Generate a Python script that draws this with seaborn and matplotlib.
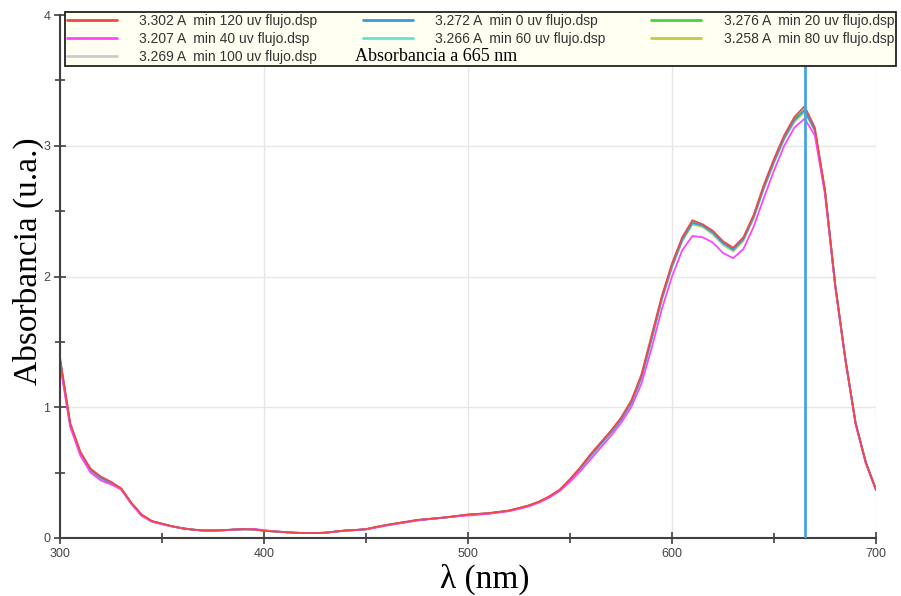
import matplotlib
matplotlib.use("Agg")
import matplotlib.pyplot as plt
import numpy as np
import pandas as pd
import seaborn as sns
from matplotlib.ticker import MultipleLocator

# ---------------- data ----------------
wavelength = list(range(300, 705, 5))

s_min120 = [1.38, 0.88, 0.66, 0.53, 0.47, 0.43, 0.38, 0.27, 0.18, 0.13,
            0.11, 0.09, 0.075, 0.065, 0.058, 0.058, 0.060, 0.065, 0.068, 0.065,
            0.055, 0.050, 0.045, 0.040, 0.038, 0.038, 0.040, 0.050, 0.058, 0.062,
            0.068, 0.085, 0.100, 0.113, 0.125, 0.138, 0.145, 0.152, 0.160, 0.170,
            0.180, 0.185, 0.190, 0.200, 0.210, 0.230, 0.250, 0.280, 0.320, 0.370,
            0.450, 0.540, 0.640, 0.730, 0.820, 0.920, 1.050, 1.250, 1.550, 1.850,
            2.100, 2.300, 2.430, 2.400, 2.350, 2.270, 2.220, 2.300, 2.470, 2.700,
            2.900, 3.080, 3.220, 3.302, 3.140, 2.660, 1.940, 1.370, 0.880, 0.580,
            0.370]
s_min40 = [1.33, 0.85, 0.63, 0.50, 0.44, 0.41, 0.37, 0.26, 0.17, 0.125,
           0.105, 0.088, 0.073, 0.064, 0.057, 0.057, 0.059, 0.063, 0.066, 0.070,
           0.060, 0.052, 0.046, 0.041, 0.039, 0.038, 0.041, 0.048, 0.055, 0.060,
           0.066, 0.080, 0.095, 0.108, 0.120, 0.133, 0.142, 0.150, 0.158, 0.166,
           0.172, 0.178, 0.185, 0.195, 0.205, 0.222, 0.243, 0.272, 0.310, 0.360,
           0.430, 0.510, 0.600, 0.690, 0.780, 0.880, 1.000, 1.180, 1.450, 1.750,
           2.000, 2.200, 2.310, 2.300, 2.260, 2.180, 2.140, 2.210, 2.380, 2.600,
           2.810, 3.000, 3.140, 3.207, 3.080, 2.630, 1.920, 1.360, 0.870, 0.570,
           0.365]
s_min0 = [1.36, 0.87, 0.65, 0.52, 0.46, 0.42, 0.375, 0.265, 0.175, 0.128,
          0.108, 0.089, 0.074, 0.064, 0.057, 0.057, 0.059, 0.064, 0.067, 0.066,
          0.056, 0.050, 0.045, 0.040, 0.038, 0.038, 0.040, 0.049, 0.057, 0.061,
          0.067, 0.083, 0.098, 0.111, 0.123, 0.136, 0.144, 0.151, 0.159, 0.168,
          0.177, 0.183, 0.188, 0.198, 0.208, 0.227, 0.248, 0.277, 0.316, 0.366,
          0.445, 0.532, 0.628, 0.718, 0.808, 0.905, 1.035, 1.230, 1.525, 1.830,
          2.080, 2.280, 2.410, 2.390, 2.335, 2.255, 2.205, 2.285, 2.455, 2.680,
          2.880, 3.060, 3.195, 3.272, 3.120, 2.650, 1.935, 1.365, 0.878, 0.578,
          0.369]
s_min20 = [1.37, 0.87, 0.65, 0.52, 0.46, 0.42, 0.377, 0.266, 0.176, 0.129,
           0.109, 0.089, 0.074, 0.064, 0.057, 0.057, 0.059, 0.064, 0.067, 0.066,
           0.056, 0.050, 0.045, 0.040, 0.038, 0.038, 0.040, 0.049, 0.057, 0.061,
           0.067, 0.084, 0.099, 0.112, 0.124, 0.137, 0.144, 0.151, 0.159, 0.169,
           0.178, 0.184, 0.189, 0.199, 0.209, 0.228, 0.249, 0.278, 0.318, 0.368,
           0.447, 0.535, 0.632, 0.722, 0.812, 0.910, 1.040, 1.238, 1.535, 1.838,
           2.088, 2.288, 2.415, 2.392, 2.340, 2.262, 2.212, 2.292, 2.462, 2.690,
           2.888, 3.068, 3.205, 3.276, 3.125, 2.652, 1.937, 1.366, 0.879, 0.579,
           0.369]
s_min60 = [1.36, 0.86, 0.64, 0.52, 0.46, 0.42, 0.374, 0.264, 0.174, 0.127,
           0.107, 0.088, 0.073, 0.064, 0.057, 0.057, 0.059, 0.064, 0.067, 0.066,
           0.056, 0.050, 0.045, 0.040, 0.038, 0.038, 0.040, 0.049, 0.057, 0.061,
           0.067, 0.083, 0.098, 0.111, 0.123, 0.136, 0.144, 0.151, 0.159, 0.168,
           0.176, 0.182, 0.188, 0.198, 0.208, 0.226, 0.247, 0.276, 0.315, 0.365,
           0.443, 0.530, 0.625, 0.715, 0.805, 0.902, 1.030, 1.225, 1.520, 1.825,
           2.075, 2.275, 2.405, 2.385, 2.330, 2.250, 2.200, 2.280, 2.450, 2.675,
           2.875, 3.055, 3.190, 3.266, 3.118, 2.648, 1.934, 1.364, 0.877, 0.577,
           0.368]
s_min80 = [1.35, 0.86, 0.64, 0.51, 0.45, 0.42, 0.373, 0.263, 0.173, 0.127,
           0.107, 0.088, 0.073, 0.064, 0.057, 0.057, 0.059, 0.064, 0.067, 0.066,
           0.056, 0.050, 0.045, 0.040, 0.038, 0.038, 0.040, 0.049, 0.057, 0.061,
           0.067, 0.083, 0.098, 0.111, 0.123, 0.136, 0.144, 0.151, 0.159, 0.168,
           0.176, 0.182, 0.188, 0.198, 0.208, 0.226, 0.247, 0.276, 0.315, 0.365,
           0.442, 0.528, 0.622, 0.712, 0.802, 0.898, 1.025, 1.220, 1.512, 1.818,
           2.068, 2.268, 2.398, 2.378, 2.322, 2.242, 2.192, 2.272, 2.442, 2.668,
           2.868, 3.048, 3.182, 3.258, 3.115, 2.646, 1.933, 1.363, 0.876, 0.576,
           0.368]
s_min100 = [1.36, 0.87, 0.65, 0.52, 0.46, 0.42, 0.375, 0.265, 0.175, 0.128,
            0.108, 0.089, 0.074, 0.064, 0.057, 0.057, 0.059, 0.064, 0.067, 0.066,
            0.056, 0.050, 0.045, 0.040, 0.038, 0.038, 0.040, 0.049, 0.057, 0.061,
            0.067, 0.083, 0.098, 0.111, 0.123, 0.136, 0.144, 0.151, 0.159, 0.168,
            0.177, 0.183, 0.188, 0.198, 0.208, 0.227, 0.248, 0.277, 0.316, 0.366,
            0.444, 0.531, 0.627, 0.717, 0.807, 0.904, 1.033, 1.228, 1.522, 1.828,
            2.078, 2.278, 2.408, 2.388, 2.333, 2.253, 2.203, 2.283, 2.453, 2.678,
            2.878, 3.058, 3.193, 3.269, 3.119, 2.649, 1.934, 1.365, 0.878, 0.578,
            0.369]

labels = {
    "min120": "3.302 A  min 120 uv flujo.dsp",
    "min40": "3.207 A  min 40 uv flujo.dsp",
    "min100": "3.269 A  min 100 uv flujo.dsp",
    "min0": "3.272 A  min 0 uv flujo.dsp",
    "min60": "3.266 A  min 60 uv flujo.dsp",
    "min20": "3.276 A  min 20 uv flujo.dsp",
    "min80": "3.258 A  min 80 uv flujo.dsp",
}
series = {
    "min120": s_min120, "min40": s_min40, "min100": s_min100, "min0": s_min0,
    "min60": s_min60, "min20": s_min20, "min80": s_min80,
}
colors = {
    "min120": "#f04848", "min40": "#ff44ff", "min100": "#cccccc",
    "min0": "#3d9ad6", "min60": "#66e0d0", "min20": "#44d444", "min80": "#c8c844",
}
legend_order = ["min120", "min40", "min100", "min0", "min60", "min20", "min80"]
draw_order = ["min100", "min80", "min60", "min20", "min0", "min40", "min120"]
marker_wl = 665
marker_text = "Absorbancia a 665 nm"

# ---------------- frame ----------------
rows = []
for key, vals in series.items():
    for w, v in zip(wavelength, vals):
        rows.append({"wl": w, "abs": v, "serie": labels[key]})
df = pd.DataFrame(rows)

sns.set_theme(style="white")
plt.rcParams["font.family"] = ["Liberation Sans", "DejaVu Sans"]

W, H = 901, 596
fig = plt.figure(figsize=(W / 100, H / 100), dpi=100)
ax = fig.add_axes([60 / W, 1 - 538 / H, 816 / W, 523 / H])

palette = {labels[k]: colors[k] for k in colors}
sns.lineplot(data=df, x="wl", y="abs", hue="serie",
             hue_order=[labels[k] for k in draw_order], palette=palette,
             estimator=None, sort=False, linewidth=1.3, ax=ax, legend=True)

ax.axvline(marker_wl, color="#4aa3dc", lw=2, zorder=4)

ax.set_xlim(300, 700)
ax.set_ylim(0, 4)
ax.xaxis.set_major_locator(MultipleLocator(100))
ax.xaxis.set_minor_locator(MultipleLocator(50))
ax.yaxis.set_major_locator(MultipleLocator(1))
ax.yaxis.set_minor_locator(MultipleLocator(0.5))
ax.grid(True, which="major", color="#e6e6e6", lw=1)
ax.set_axisbelow(True)

for s in ["top", "right"]:
    ax.spines[s].set_visible(False)
for s in ["left", "bottom"]:
    ax.spines[s].set_color("#404040")
    ax.spines[s].set_linewidth(1.5)

ax.tick_params(which="major", direction="inout", length=8, width=1.2,
               color="#404040", labelsize=9, labelcolor="#444444", pad=3)
ax.tick_params(which="minor", direction="inout", length=7, width=1.2,
               color="#404040")
ax.tick_params(axis="both", which="both", bottom=True, left=True)

serif = ["Liberation Serif", "DejaVu Serif"]
ax.set_xlabel("λ (nm)", fontsize=24, family=serif, color="black")
ax.set_ylabel("Absorbancia (u.a.)", fontsize=24, family=serif, color="black")
ax.xaxis.set_label_coords(0.52, -0.05)
ax.yaxis.set_label_coords(-0.02, 0.53)

h, l = ax.get_legend_handles_labels()
hd = dict(zip(l, h))
leg = ax.legend([hd[labels[k]] for k in legend_order],
                [labels[k] for k in legend_order],
                ncol=3, loc="upper left",
                bbox_to_anchor=(65 / W, 1 - 12 / H),
                bbox_transform=fig.transFigure, borderaxespad=0,
                fontsize=10, handlelength=3.6, handletextpad=1.6,
                columnspacing=3.3,
                labelspacing=0.3, borderpad=0.12, frameon=True,
                fancybox=False, framealpha=1, facecolor="#fffff2",
                edgecolor="#222222")
leg.get_frame().set_linewidth(1.3)
for t in leg.get_texts():
    t.set_color("#333333")
for line in leg.get_lines():
    line.set_linewidth(2)
leg.set_zorder(10)

fig.text(355 / W, 1 - 61 / H, marker_text, fontsize=13, family=serif,
         color="black", va="baseline", ha="left", zorder=11)

fig.savefig("out.png", dpi=100)
